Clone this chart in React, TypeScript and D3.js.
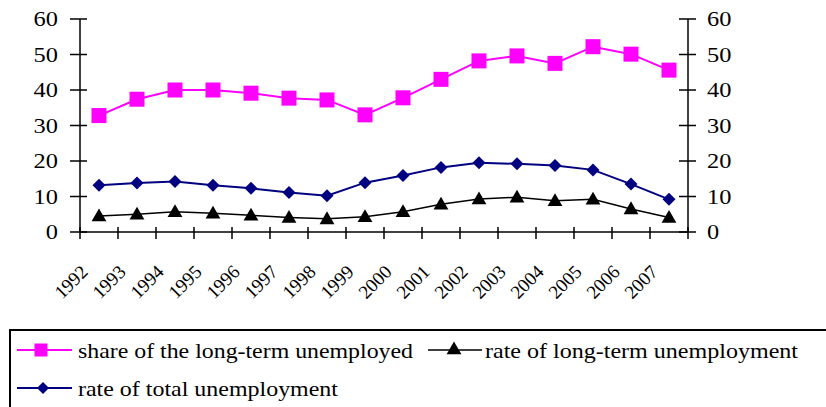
import React from "react";
import * as d3 from "d3";

const years = ["1992","1993","1994","1995","1996","1997","1998","1999","2000","2001","2002","2003","2004","2005","2006","2007"];
const shareLongTerm = [32.8, 37.4, 40.0, 40.0, 39.1, 37.7, 37.2, 33.0, 37.8, 43.0, 48.2, 49.6, 47.5, 52.2, 50.1, 45.6];
const rateTotal = [13.2, 13.8, 14.2, 13.2, 12.3, 11.1, 10.2, 13.9, 15.9, 18.2, 19.5, 19.2, 18.7, 17.5, 13.5, 9.2];
const rateLongTerm = [4.5, 5.0, 5.7, 5.3, 4.7, 4.1, 3.7, 4.3, 5.7, 7.8, 9.3, 9.8, 8.8, 9.2, 6.5, 4.1];
const yTicks = [0, 10, 20, 30, 40, 50, 60];
const legendLabels = ["share of the long-term unemployed", "rate of long-term unemployment", "rate of total unemployment"];

const W = 826, H = 407;
const left = 80, right = 688, top = 19, bottom = 232;
const FONT = "'Liberation Serif', serif";
const ts = (size: number) => ({ fontFamily: FONT, fontSize: size + "px" });

export default function App() {
  const x = d3.scaleBand<string>().domain(years).range([left, right]).padding(0);
  const y = d3.scaleLinear().domain([0, 60]).range([bottom, top]);
  const cx = (i: number) => (x(years[i]) as number) + x.bandwidth() / 2;
  const line = d3.line<number>().x((_, i) => cx(i)).y((d) => y(d));
  const tri = d3.symbol().type(d3.symbolTriangle).size(95)() as string;

  const square = (px: number, py: number, s: number, key: any) => (
    <rect key={key} x={px - s / 2} y={py - s / 2} width={s} height={s} fill="#FF00FF" />
  );
  const diamond = (px: number, py: number, s: number, key: any) => (
    <path key={key} d={`M${px},${py - s}L${px + s},${py}L${px},${py + s}L${px - s},${py}Z`} fill="#000080" />
  );
  const triangle = (px: number, py: number, key: any) => (
    <path key={key} d={tri} transform={`translate(${px},${py + 1})`} fill="#000000" />
  );

  const catTicks = d3.range(years.length + 1).map((i) => left + i * x.bandwidth());

  return (
    <svg width={W} height={H} style={{ position: "absolute", left: 0, top: 0, fontFamily: FONT }}>
      <rect x={0} y={0} width={W} height={H} fill="#fff" />
      <line x1={left} x2={left} y1={top} y2={bottom} stroke="#000" strokeWidth={1.5} />
      <line x1={right} x2={right} y1={top} y2={bottom} stroke="#000" strokeWidth={1.5} />
      <line x1={left} x2={right} y1={bottom} y2={bottom} stroke="#000" strokeWidth={1.5} />
      {yTicks.map((t) => (
        <g key={"yt" + t}>
          <line x1={left - 10} x2={left + 7} y1={y(t)} y2={y(t)} stroke="#000" strokeWidth={1.5} />
          <line x1={right - 9} x2={right + 8} y1={y(t)} y2={y(t)} stroke="#000" strokeWidth={1.5} />
          <text transform={`translate(58,${y(t)}) scale(1.22,1)`} dy="0.35em" textAnchor="end" style={ts(20)}>{t}</text>
          <text transform={`translate(707,${y(t)}) scale(1.22,1)`} dy="0.35em" textAnchor="start" style={ts(20)}>{t}</text>
        </g>
      ))}
      {catTicks.map((tx, i) => (
        <line key={"xt" + i} x1={tx} x2={tx} y1={bottom - 5} y2={bottom + 7} stroke="#000" strokeWidth={1.5} />
      ))}
      {years.map((yr, i) => (
        <text key={"xl" + yr} transform={`translate(${cx(i) - 10},${bottom + 41}) rotate(-45)`} textAnchor="end" style={ts(19)}>{yr}</text>
      ))}
      <path d={line(shareLongTerm) as string} fill="none" stroke="#FF00FF" strokeWidth={2} />
      <path d={line(rateTotal) as string} fill="none" stroke="#000080" strokeWidth={2} />
      <path d={line(rateLongTerm) as string} fill="none" stroke="#000" strokeWidth={1.5} />
      {shareLongTerm.map((v, i) => square(cx(i), y(v), 15, "s" + i))}
      {rateTotal.map((v, i) => diamond(cx(i), y(v), 6.5, "d" + i))}
      {rateLongTerm.map((v, i) => triangle(cx(i), y(v), "t" + i))}
      <rect x={10} y={330} width={840} height={100} fill="none" stroke="#000" strokeWidth={2} />
      <line x1={17} x2={72} y1={350} y2={350} stroke="#FF00FF" strokeWidth={2} />
      {square(41, 350, 13, "ls")}
      <text x={78} y={350} dy="0.35em" style={ts(22)} textLength={335} lengthAdjust="spacingAndGlyphs">{legendLabels[0]}</text>
      <line x1={428} x2={482} y1={350} y2={350} stroke="#000" strokeWidth={1.5} />
      {triangle(454, 349, "lt")}
      <text x={485} y={350} dy="0.35em" style={ts(22)} textLength={313} lengthAdjust="spacingAndGlyphs">{legendLabels[1]}</text>
      <line x1={17} x2={72} y1={388} y2={388} stroke="#000080" strokeWidth={2} />
      {diamond(43, 388, 6, "ld")}
      <text x={78} y={388} dy="0.35em" style={ts(22)} textLength={260} lengthAdjust="spacingAndGlyphs">{legendLabels[2]}</text>
    </svg>
  );
}
